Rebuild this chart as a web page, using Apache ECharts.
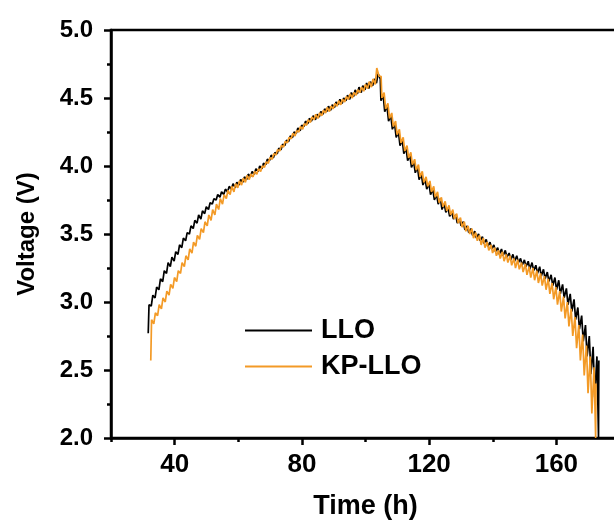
<!DOCTYPE html>
<html>
<head>
<meta charset="utf-8">
<script src="https://cdn.jsdelivr.net/npm/echarts@6/dist/echarts.min.js"></script>
<style>
html,body{margin:0;padding:0;background:#fff;}
#chart{width:614px;height:523px;}
</style>
</head>
<body>
<div id="chart"></div>
<script>
// ---------- data ----------
const seriesNames = ['LLO', 'KP-LLO'];
const xTickLabels = [40, 80, 120, 160];
const yTickLabels = [2.0, 2.5, 3.0, 3.5, 4.0, 4.5, 5.0];
const pulsePeriod = 1.2;   // h between GITT pulses
const pulseOn = 0.25;      // h, current on
const relaxDrop = 0.7;     // h, main part of the relaxation

// LLO charge: voltage at rest before each pulse / at end of each pulse
const lloChargeStart = 31.7;
const lloChargeRest = [2.77,2.97,3.03,3.09,3.15,3.21,3.26,3.30,3.35,3.40,3.45,3.50,3.54,3.58,3.61,3.65,3.68,3.72,3.75,3.77,3.79,3.81,3.83,3.84,3.86,3.88,3.90,3.92,3.94,3.96,3.98,4.01,4.04,4.06,4.09,4.12,4.15,4.18,4.21,4.24,4.26,4.29,4.31,4.33,4.34,4.36,4.38,4.40,4.41,4.43,4.45,4.46,4.48,4.49,4.51,4.53,4.54,4.56,4.57,4.59,4.61];
const lloChargePeak = [2.98,3.05,3.11,3.17,3.23,3.29,3.33,3.37,3.42,3.47,3.51,3.56,3.60,3.64,3.67,3.70,3.73,3.76,3.79,3.81,3.83,3.85,3.87,3.88,3.90,3.92,3.94,3.96,3.98,4.00,4.02,4.05,4.08,4.10,4.13,4.16,4.19,4.22,4.25,4.28,4.30,4.33,4.35,4.37,4.38,4.40,4.42,4.44,4.45,4.47,4.49,4.50,4.52,4.54,4.56,4.58,4.59,4.61,4.62,4.64,4.68];
// LLO discharge: rest before each pulse / end of each pulse
const lloDischargeStart = 104.6;
const lloDischargeRest = [4.64,4.52,4.44,4.37,4.31,4.25,4.19,4.13,4.08,4.03,3.99,3.94,3.90,3.87,3.83,3.79,3.76,3.72,3.69,3.66,3.64,3.61,3.59,3.56,3.54,3.52,3.50,3.48,3.46,3.44,3.42,3.40,3.39,3.38,3.36,3.35,3.34,3.32,3.31,3.30,3.29,3.27,3.26,3.24,3.22,3.20,3.18,3.16,3.13,3.10,3.06,3.02,2.96,2.90,2.83,2.75,2.67,2.60];
const lloDischargePulse = [4.48,4.40,4.33,4.27,4.21,4.15,4.09,4.04,3.99,3.95,3.90,3.86,3.83,3.79,3.75,3.72,3.68,3.66,3.63,3.61,3.58,3.56,3.53,3.51,3.49,3.47,3.45,3.43,3.41,3.39,3.37,3.35,3.34,3.33,3.31,3.30,3.29,3.27,3.26,3.24,3.23,3.21,3.19,3.17,3.15,3.12,3.09,3.06,3.03,2.98,2.93,2.87,2.80,2.71,2.60,2.47,2.30,2.00];
const lloFinalRest = 2.57;

// KP-LLO charge
const kpChargeStart = 32.5;
const kpChargeRest = [2.57,2.84,2.90,2.95,3.00,3.05,3.10,3.15,3.21,3.26,3.31,3.36,3.41,3.46,3.51,3.56,3.60,3.64,3.68,3.72,3.76,3.79,3.81,3.84,3.86,3.88,3.90,3.92,3.94,3.96,3.99,4.02,4.05,4.08,4.11,4.14,4.17,4.20,4.22,4.25,4.27,4.30,4.32,4.34,4.35,4.37,4.39,4.40,4.42,4.44,4.45,4.47,4.49,4.50,4.52,4.54,4.55,4.57,4.58,4.60];
const kpChargePeak = [2.87,2.92,2.98,3.03,3.08,3.13,3.18,3.23,3.29,3.34,3.39,3.44,3.49,3.54,3.59,3.64,3.68,3.72,3.76,3.79,3.82,3.85,3.87,3.89,3.91,3.93,3.94,3.96,3.98,4.00,4.03,4.06,4.09,4.12,4.15,4.18,4.21,4.24,4.26,4.29,4.31,4.34,4.36,4.38,4.39,4.41,4.43,4.44,4.46,4.48,4.49,4.51,4.53,4.54,4.56,4.58,4.60,4.62,4.64,4.72];
// KP-LLO discharge
const kpDischargeStart = 104.9;
const kpDischargeRest = [4.66,4.54,4.46,4.39,4.33,4.27,4.21,4.15,4.10,4.05,4.01,3.96,3.92,3.89,3.85,3.81,3.77,3.74,3.71,3.68,3.65,3.62,3.59,3.56,3.54,3.51,3.49,3.47,3.44,3.42,3.40,3.38,3.37,3.35,3.34,3.32,3.31,3.29,3.28,3.26,3.25,3.23,3.21,3.19,3.17,3.14,3.11,3.08,3.04,3.00,2.95,2.89,2.83,2.76,2.68,2.60,2.52];
const kpDischargePulse = [4.50,4.42,4.35,4.29,4.23,4.17,4.11,4.06,4.01,3.97,3.92,3.88,3.85,3.81,3.77,3.73,3.70,3.67,3.64,3.61,3.58,3.55,3.52,3.50,3.47,3.45,3.42,3.40,3.38,3.36,3.34,3.32,3.30,3.29,3.27,3.25,3.24,3.22,3.20,3.18,3.16,3.14,3.12,3.09,3.06,3.02,2.98,2.93,2.88,2.82,2.75,2.66,2.57,2.46,2.33,2.18,2.00];
const kpFinalRest = 2.40;

// ---------- build the GITT traces from the arrays ----------
function buildTrace(cStart, cRest, cPeak, dStart, dRest, dPulse, finalRest) {
  const steps = [];
  cRest.forEach((r, i) => steps.push({ t: cStart + i * pulsePeriod, rest: r, peak: cPeak[i] }));
  dRest.forEach((r, i) => steps.push({ t: dStart + i * pulsePeriod, rest: r, peak: dPulse[i] }));
  const pts = [];
  steps.forEach((s, k) => {
    const next = k + 1 < steps.length ? steps[k + 1].rest : finalRest;
    pts.push([s.t, s.rest]);
    pts.push([s.t + pulseOn, s.peak]);
    pts.push([s.t + pulseOn + (k + 1 < steps.length ? relaxDrop : 0.1), next]);
  });
  return pts;
}
const lloData = buildTrace(lloChargeStart, lloChargeRest, lloChargePeak, lloDischargeStart, lloDischargeRest, lloDischargePulse, lloFinalRest);
const kpData = buildTrace(kpChargeStart, kpChargeRest, kpChargePeak, kpDischargeStart, kpDischargeRest, kpDischargePulse, kpFinalRest);

const FONT = "'Liberation Sans', Arial, Helvetica, sans-serif";
const LINE_ICON = 'path://M0,0 L67,0 L67,2 L0,2 Z';
const chart = echarts.init(document.getElementById('chart'), null, { renderer: 'canvas' });
chart.setOption({
  animation: false,
  backgroundColor: '#ffffff',
  grid: { left: 111, right: -6, top: 30, bottom: 85, outerBoundsMode: 'none', containLabel: false, show: true, borderColor: '#000', borderWidth: 2.5, backgroundColor: 'transparent' },
  legend: {
    orient: 'vertical', left: 240, top: 312, itemWidth: 67, itemHeight: 2, itemGap: 9,
    data: [{ name: seriesNames[0], icon: LINE_ICON }, { name: seriesNames[1], icon: LINE_ICON }],
    textStyle: { fontFamily: FONT, fontWeight: 'bold', fontSize: 27, color: '#000', padding: [0, 0, 0, 4] }
  },
  xAxis: [{
    type: 'value', min: 20, max: 180, position: 'bottom',
    axisLine: { lineStyle: { color: '#000', width: 2.5 } },
    axisTick: { customValues: xTickLabels, length: 7, lineStyle: { color: '#000', width: 2.5 } },
    axisLabel: { customValues: xTickLabels, fontFamily: FONT, fontWeight: 'bold', fontSize: 26, color: '#000', margin: 14 },
    splitLine: { show: false },
    name: 'Time (h)', nameLocation: 'middle', nameGap: 55,
    nameTextStyle: { fontFamily: FONT, fontWeight: 'bold', fontSize: 27, color: '#000' }
  }, {
    type: 'value', min: 20, max: 180, interval: 20, position: 'bottom',
    axisLine: { show: false },
    axisTick: { length: 4, lineStyle: { color: '#000', width: 2.5 } },
    axisLabel: { show: false }, splitLine: { show: false }
  }],
  yAxis: {
    type: 'value', min: 2, max: 5, interval: 0.5,
    axisLine: { show: true, lineStyle: { color: '#000', width: 2.5 } },
    axisTick: { show: true, length: 7, lineStyle: { color: '#000', width: 2.5 } },
    minorTick: { show: true, splitNumber: 2, length: 4, lineStyle: { color: '#000', width: 2.5 } },
    axisLabel: { customValues: yTickLabels, formatter: v => v.toFixed(1), fontFamily: FONT, fontWeight: 'bold', fontSize: 24, color: '#000', margin: 18 },
    splitLine: { show: false },
    name: 'Voltage (V)', nameLocation: 'middle', nameRotate: 90, nameGap: 72,
    nameTextStyle: { fontFamily: FONT, fontWeight: 'bold', fontSize: 24, color: '#000' }
  },
  series: [{
    name: seriesNames[0], type: 'line', data: lloData, showSymbol: false, symbol: 'none',
    lineStyle: { color: '#000000', width: 1.7 }, itemStyle: { color: '#000000' }, z: 2
  }, {
    name: seriesNames[1], type: 'line', data: kpData, showSymbol: false, symbol: 'none',
    lineStyle: { color: '#F39A26', width: 1.7 }, itemStyle: { color: '#F39A26' }, z: 3
  }]
});
</script>
</body>
</html>
